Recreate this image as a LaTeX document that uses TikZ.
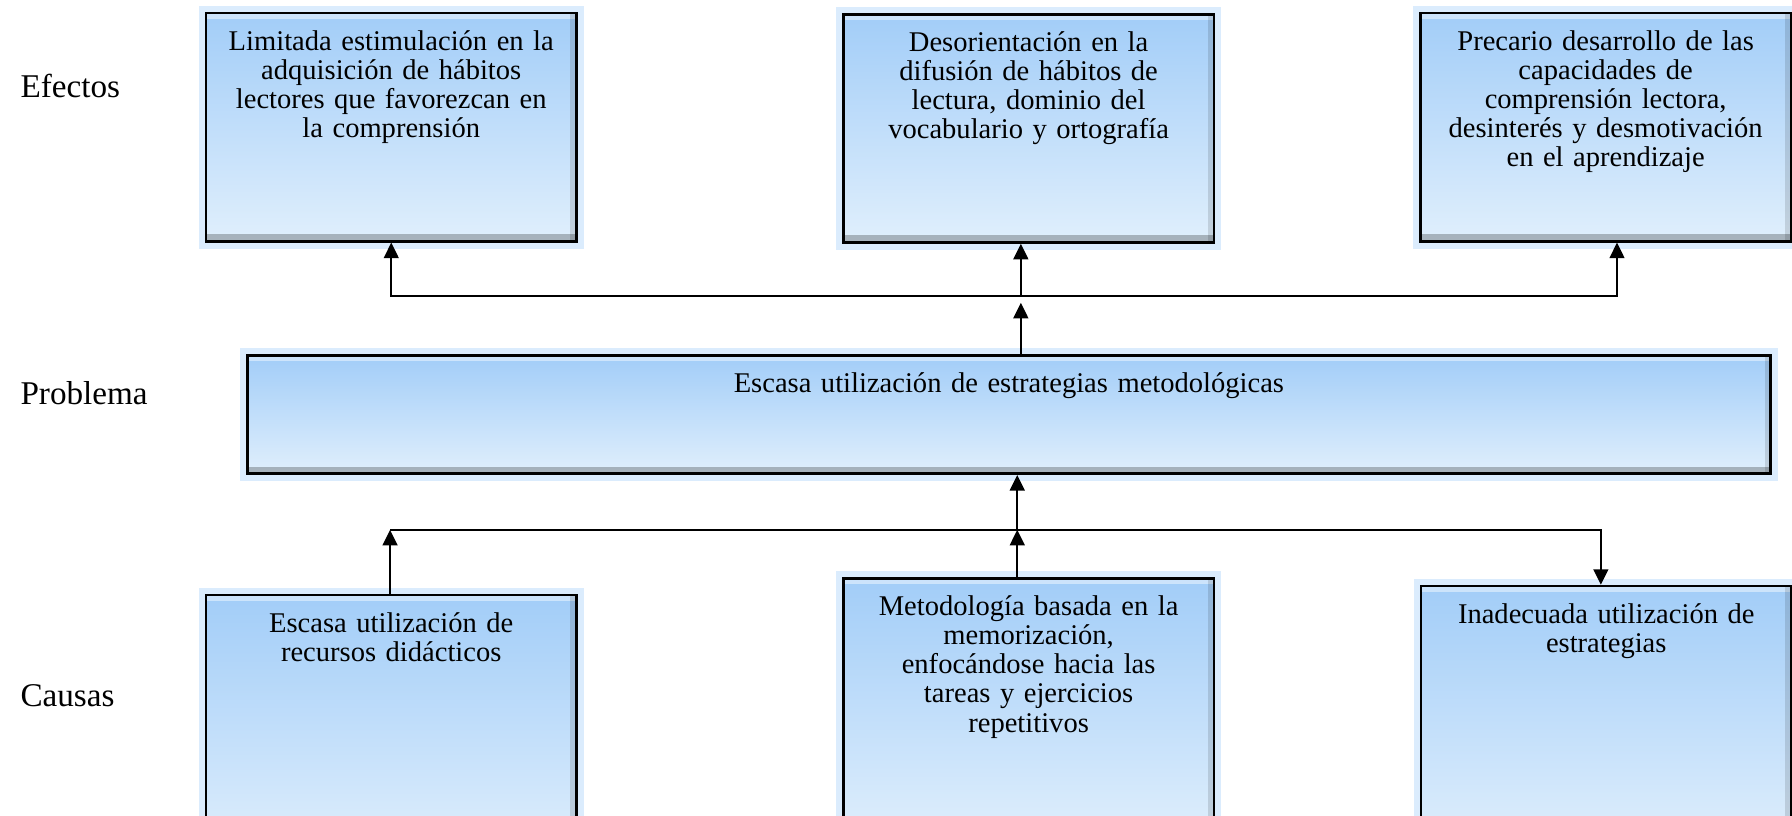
\documentclass[tikz,border=0pt]{standalone}
\usepackage{fontspec}
\setmainfont{Liberation Serif}
\usetikzlibrary{arrows.meta}
\definecolor{boxTop}{RGB}{162,205,248}
\definecolor{boxBottom}{RGB}{224,239,252}
\definecolor{glowBlue}{RGB}{195,224,251}
\tikzset{
    treeBox/.style={
		draw=black, line width=1.2pt, anchor=north,
		top color=boxTop, bottom color=boxBottom,
		preaction={draw=glowBlue, line width=7pt, opacity=0.6},
		text width=5.8cm, align=center, inner xsep=0.2cm, inner ysep=0.2cm,
		text height=0.42cm, text depth=3.0cm,
		font=\fontsize{13.6}{13.9}\selectfont,
		path picture={
			\fill[white, opacity=0.45] (path picture bounding box.north west) rectangle ([yshift=-0.1cm]path picture bounding box.north east);
			\fill[black, opacity=0.25] (path picture bounding box.south west) rectangle ([yshift=0.12cm]path picture bounding box.south east);
			\fill[black, opacity=0.12] (path picture bounding box.north east) rectangle ([xshift=-0.1cm]path picture bounding box.south east);
		}
	}
}
\tikzset{
    causeBox/.style={treeBox, text depth=3.6cm}
}
\tikzset{
    problemBox/.style={treeBox, text width=25.1cm, text depth=1.16cm}
}
\tikzset{
    rowLabel/.style={anchor=west, inner sep=0pt, font=\fontsize{15.8}{18}\selectfont}
}

\begin{document}
\begin{tikzpicture}[>={Triangle[length=2.6mm,width=2.5mm]}, thick]
			\useasboundingbox (0,0) rectangle (30,13.66);
			\node[rowLabel] (efectos) at (0.33,12.22) {Efectos};
			\node[rowLabel] (problema) at (0.33,7.08) {Problema};
			\node[rowLabel] (causas) at (0.33,2.01) {Causas};
			% efectos
			\node[treeBox] (e1) at (6.55,13.46) {Limitada estimulación en la\\ adquisición de hábitos\\ lectores que favorezcan en\\ la comprensión};
			\node[treeBox] (e2) at (17.22,13.44) {Desorientación en la\\ difusión de hábitos de\\ lectura, dominio del\\ vocabulario y ortografía};
			\node[treeBox] (e3) at (26.88,13.46) {Precario desarrollo de las\\ capacidades de\\ comprensión lectora,\\ desinterés y desmotivación\\ en el aprendizaje};
			% problema
			\node[problemBox] (prob) at (16.89,7.73) {Escasa utilización de estrategias metodológicas};
			% causas
			\node[causeBox] (c1) at (6.55,3.72) {Escasa utilización de\\ recursos didácticos};
			\node[causeBox] (c2) at (17.22,4.00) {Metodología basada en la\\ memorización,\\ enfocándose hacia las\\ tareas y ejercicios\\ repetitivos};
			\node[causeBox] (c3) at (26.89,3.87) {Inadecuada utilización de\\ estrategias};
			\coordinate (eLeft) at (6.55,8.71);
			\coordinate (eMid) at (17.09,8.71);
			\coordinate (eRight) at (27.07,8.71);
			\draw[<->] (e1.south -| eLeft) -- (eLeft) -- (eRight) -- (e3.south -| eRight);
			\draw[->] (prob.north -| eMid) -- ([yshift=-0.12cm]eMid);
			\draw[->] (eMid) -- (e2.south -| eMid);
			\coordinate (cLeft) at (6.53,4.79);
			\coordinate (cMid) at (17.03,4.79);
			\coordinate (cRight) at (26.80,4.79);
			\draw[->] (c1.north -| cLeft) -- (cLeft);
			\draw[->] (cLeft) -- (cRight) -- (c3.north -| cRight);
			\draw[->] (c2.north -| cMid) -- (cMid);
			\draw[->] (cMid) -- (prob.south -| cMid);
	\end{tikzpicture}
\end{document}
